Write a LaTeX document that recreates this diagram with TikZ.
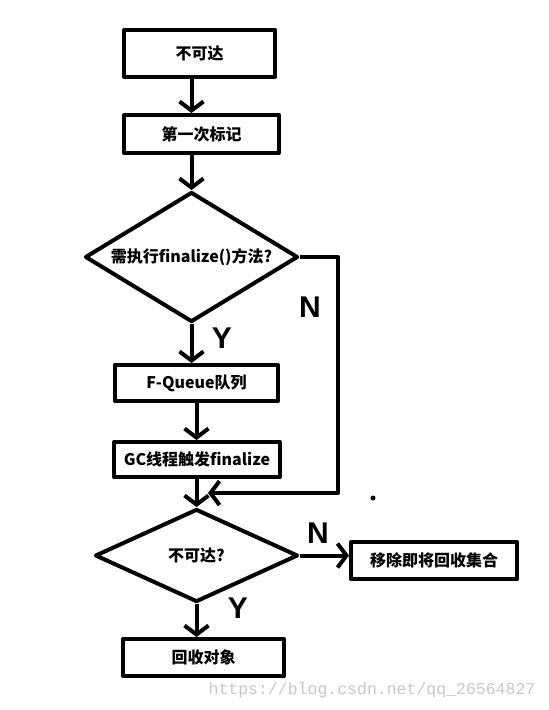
\documentclass[tikz,border=0pt]{standalone}
\usepackage{fontspec}
\usepackage{tikz}
\usetikzlibrary{arrows.meta,shapes.geometric}
\newfontfamily\cjk{Noto Sans CJK SC}
\newfontfamily\hand{Liberation Sans}
\newfontfamily\mono{Liberation Mono}

\begin{document}
\begin{tikzpicture}[x=1pt,y=-1pt,line width=4pt,line join=round,
    box/.style={draw,rectangle,inner sep=0pt,font=\cjk\bfseries\fontsize{16}{18}\selectfont},
    choice/.style={draw,diamond,inner sep=0pt,font=\cjk\bfseries\fontsize{16}{18}\selectfont},
    arr/.style={-{Straight Barb[length=9pt,width=24pt]}},
    yn/.style={font=\hand\bfseries\fontsize{30}{30}\selectfont}]
\useasboundingbox (0,0) rectangle (549,710);
  \node[box,minimum width=151pt,minimum height=47pt] (unreach) at (199.5,53.5) {不可达};
  \node[box,minimum width=155pt,minimum height=38pt] (mark) at (201.5,134) {第一次标记};
  \node[choice,aspect=1.64,minimum width=213pt,minimum height=130pt] (needfin) at (191.5,257) {需执行finalize()方法?};
  \node[box,minimum width=163pt,minimum height=36pt] (queue) at (196.5,383) {F-Queue队列};
  \node[box,minimum width=166pt,minimum height=35pt] (gc) at (197,459.5) {GC线程触发finalize};
  \node[choice,aspect=2.18,minimum width=203pt,minimum height=93pt] (again) at (196.5,555.5) {不可达?};
  \node[box,minimum width=166pt,minimum height=37pt] (remove) at (434,560.5) {移除即将回收集合};
  \node[box,minimum width=161pt,minimum height=37pt] (collect) at (203.5,657.5) {回收对象};
  \coordinate (corner) at (338,493);
  \coordinate (join) at (208,493);
\draw[arr] (unreach.south -| needfin) -- (mark.north -| needfin);
\draw[arr] (mark.south -| needfin) -- (needfin.north);
\draw[arr] (needfin.south) -- (queue.north -| needfin);
\draw[arr] (queue.south -| again) -- (gc.north -| again);
\draw[arr] (gc.south -| again) -- (again.north);
\draw[arr] (needfin.east) -| (corner) -- (join);
\draw[arr] (again.east) -- (again.east -| remove.west);
\draw[arr] (again.south) -- (collect.north -| again);

  \node[yn] (n1) at (310,307) {N}; \node[yn] (y1) at (222,338) {Y};
  \node[yn] (n2) at (318,533) {N}; \node[yn] (y2) at (238,608) {Y};
  \fill (373,498) circle (2.5pt);
  \node[font=\mono\fontsize{16.5}{18}\selectfont,text=black!22] (url) at (372,690) {https://blog.csdn.net/qq\_26564827};
    % \node[choice] (test) at (0,0) {};
\end{tikzpicture}
\end{document}
